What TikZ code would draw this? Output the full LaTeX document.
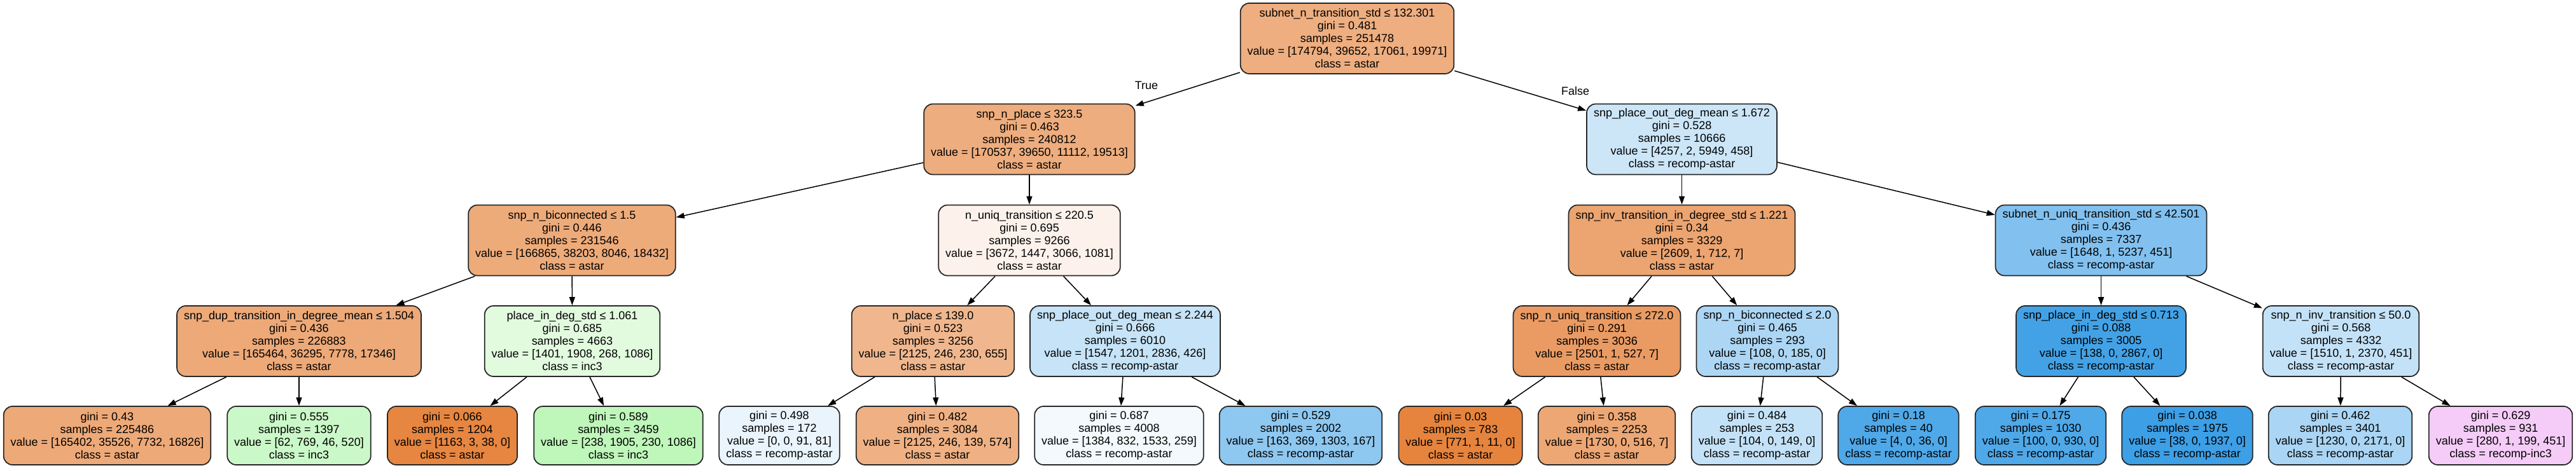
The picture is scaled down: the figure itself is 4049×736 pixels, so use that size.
\documentclass[tikz,border=0pt]{standalone}
\usepackage{fontspec}
\setmainfont{Liberation Sans}
\usetikzlibrary{arrows.meta}
\definecolor{astar}{RGB}{229,129,57}
\definecolor{inc3}{RGB}{71,229,57}
\definecolor{recomp}{RGB}{57,157,229}
\definecolor{recompinc}{RGB}{215,57,229}
\tikzset{
	split/.style={draw=black!85, line width=1pt, rounded corners=0.28cm, align=center, inner xsep=0.22cm, inner ysep=0pt, minimum height=2.22cm, font=\fontsize{10.24pt}{11.38pt}\selectfont},
	leaf/.style={split, minimum height=1.84cm},
	edge/.style={-{Triangle[length=0.26cm,width=0.18cm]}, line width=0.85pt},
	branch/.style={font=\fontsize{10.24pt}{11.38pt}\selectfont}
}
\begin{document}
\begin{tikzpicture}[x=0.02cm, y=-0.02cm]
			\useasboundingbox (0, 0) rectangle (4049, 736);
			% root and first split
			\node[split, fill=astar!64] (root) at (2117.5, 60.5) {subnet\_n\_transition\_std ≤ 132.301\\gini = 0.481\\samples = 251478\\value = [174794, 39652, 17061, 19971]\\class = astar};
			\node[split, fill=astar!65] (nplace) at (1618, 219) {snp\_n\_place ≤ 323.5\\gini = 0.463\\samples = 240812\\value = [170537, 39650, 11112, 19513]\\class = astar};
			\node[split, fill=recomp!26] (outdeg) at (2643.5, 219) {snp\_place\_out\_deg\_mean ≤ 1.672\\gini = 0.528\\samples = 10666\\value = [4257, 2, 5949, 458]\\class = recomp-astar};
			% second level
			\node[split, fill=astar!67] (bicon) at (899, 378) {snp\_n\_biconnected ≤ 1.5\\gini = 0.446\\samples = 231546\\value = [166865, 38203, 8046, 18432]\\class = astar};
			\node[split, fill=astar!10] (uniq) at (1618, 378) {n\_uniq\_transition ≤ 220.5\\gini = 0.695\\samples = 9266\\value = [3672, 1447, 3066, 1081]\\class = astar};
			\node[split, fill=astar!72] (invdeg) at (2643.5, 378) {snp\_inv\_transition\_in\_degree\_std ≤ 1.221\\gini = 0.34\\samples = 3329\\value = [2609, 1, 712, 7]\\class = astar};
			\node[split, fill=recomp!63] (subnet) at (3302.5, 378) {subnet\_n\_uniq\_transition\_std ≤ 42.501\\gini = 0.436\\samples = 7337\\value = [1648, 1, 5237, 451]\\class = recomp-astar};
			% third level
			\node[split, fill=astar!68] (dup) at (470, 536.5) {snp\_dup\_transition\_in\_degree\_mean ≤ 1.504\\gini = 0.436\\samples = 226883\\value = [165464, 36295, 7778, 17346]\\class = astar};
			\node[split, fill=inc3!16] (placein) at (899.5, 536.5) {place\_in\_deg\_std ≤ 1.061\\gini = 0.685\\samples = 4663\\value = [1401, 1908, 268, 1086]\\class = inc3};
			\node[split, fill=astar!57] (nplacetwo) at (1466.5, 536.5) {n\_place ≤ 139.0\\gini = 0.523\\samples = 3256\\value = [2125, 246, 230, 655]\\class = astar};
			\node[split, fill=recomp!29] (outdegtwo) at (1768.5, 536.5) {snp\_place\_out\_deg\_mean ≤ 2.244\\gini = 0.666\\samples = 6010\\value = [1547, 1201, 2836, 426]\\class = recomp-astar};
			\node[split, fill=astar!79] (nuniq) at (2510, 536.5) {snp\_n\_uniq\_transition ≤ 272.0\\gini = 0.291\\samples = 3036\\value = [2501, 1, 527, 7]\\class = astar};
			\node[split, fill=recomp!42] (bicontwo) at (2778, 536.5) {snp\_n\_biconnected ≤ 2.0\\gini = 0.465\\samples = 293\\value = [108, 0, 185, 0]\\class = recomp-astar};
			\node[split, fill=recomp!95] (placeindeg) at (3302.5, 536.5) {snp\_place\_in\_deg\_std ≤ 0.713\\gini = 0.088\\samples = 3005\\value = [138, 0, 2867, 0]\\class = recomp-astar};
			\node[split, fill=recomp!30] (ninv) at (3679.5, 536.5) {snp\_n\_inv\_transition ≤ 50.0\\gini = 0.568\\samples = 4332\\value = [1510, 1, 2370, 451]\\class = recomp-astar};
			% leaves
			\node[leaf, fill=astar!68] (leafa) at (168.5, 685) {gini = 0.43\\samples = 225486\\value = [165402, 35526, 7732, 16826]\\class = astar};
			\node[leaf, fill=inc3!28] (leafb) at (470, 685) {gini = 0.555\\samples = 1397\\value = [62, 769, 46, 520]\\class = inc3};
			\node[leaf, fill=astar!96] (leafc) at (711, 685) {gini = 0.066\\samples = 1204\\value = [1163, 3, 38, 0]\\class = astar};
			\node[leaf, fill=inc3!35] (leafd) at (972, 685) {gini = 0.589\\samples = 3459\\value = [238, 1905, 230, 1086]\\class = inc3};
			\node[leaf, fill=recomp!11] (leafe) at (1225, 685) {gini = 0.498\\samples = 172\\value = [0, 0, 91, 81]\\class = recomp-astar};
			\node[leaf, fill=astar!62] (leaff) at (1473.5, 685) {gini = 0.482\\samples = 3084\\value = [2125, 246, 139, 574]\\class = astar};
			\node[leaf, fill=recomp!6] (leafg) at (1759, 685) {gini = 0.687\\samples = 4008\\value = [1384, 832, 1533, 259]\\class = recomp-astar};
			\node[leaf, fill=recomp!57] (leafh) at (2044.5, 685) {gini = 0.529\\samples = 2002\\value = [163, 369, 1303, 167]\\class = recomp-astar};
			\node[leaf, fill=astar!98] (leafi) at (2295.5, 685) {gini = 0.03\\samples = 783\\value = [771, 1, 11, 0]\\class = astar};
			\node[leaf, fill=astar!70] (leafj) at (2525.5, 685) {gini = 0.358\\samples = 2253\\value = [1730, 0, 516, 7]\\class = astar};
			\node[leaf, fill=recomp!30] (leafk) at (2761.5, 685) {gini = 0.484\\samples = 253\\value = [104, 0, 149, 0]\\class = recomp-astar};
			\node[leaf, fill=recomp!89] (leafl) at (2984, 685) {gini = 0.18\\samples = 40\\value = [4, 0, 36, 0]\\class = recomp-astar};
			\node[leaf, fill=recomp!89] (leafm) at (3207.5, 685) {gini = 0.175\\samples = 1030\\value = [100, 0, 930, 0]\\class = recomp-astar};
			\node[leaf, fill=recomp!98] (leafn) at (3438, 685) {gini = 0.038\\samples = 1975\\value = [38, 0, 1937, 0]\\class = recomp-astar};
			\node[leaf, fill=recomp!43] (leafo) at (3678.5, 685) {gini = 0.462\\samples = 3401\\value = [1230, 0, 2171, 0]\\class = recomp-astar};
			\node[leaf, fill=recompinc!26] (leafp) at (3930.5, 685) {gini = 0.629\\samples = 931\\value = [280, 1, 199, 451]\\class = recomp-inc3};
			% edges
			\draw[edge] (root) -- (nplace);
			\draw[edge] (root) -- (outdeg);
			\node[branch] (true) at (1802, 134) {True};
			\node[branch] (false) at (2476, 143) {False};
			\draw[edge] (nplace) -- (bicon);
			\draw[edge] (nplace) -- (uniq);
			\draw[edge] (outdeg) -- (invdeg);
			\draw[edge] (outdeg) -- (subnet);
			\draw[edge] (bicon) -- (dup);
			\draw[edge] (bicon) -- (placein);
			\draw[edge] (uniq) -- (nplacetwo);
			\draw[edge] (uniq) -- (outdegtwo);
			\draw[edge] (invdeg) -- (nuniq);
			\draw[edge] (invdeg) -- (bicontwo);
			\draw[edge] (subnet) -- (placeindeg);
			\draw[edge] (subnet) -- (ninv);
			\draw[edge] (dup) -- (leafa);
			\draw[edge] (dup) -- (leafb);
			\draw[edge] (placein) -- (leafc);
			\draw[edge] (placein) -- (leafd);
			\draw[edge] (nplacetwo) -- (leafe);
			\draw[edge] (nplacetwo) -- (leaff);
			\draw[edge] (outdegtwo) -- (leafg);
			\draw[edge] (outdegtwo) -- (leafh);
			\draw[edge] (nuniq) -- (leafi);
			\draw[edge] (nuniq) -- (leafj);
			\draw[edge] (bicontwo) -- (leafk);
			\draw[edge] (bicontwo) -- (leafl);
			\draw[edge] (placeindeg) -- (leafm);
			\draw[edge] (placeindeg) -- (leafn);
			\draw[edge] (ninv) -- (leafo);
			\draw[edge] (ninv) -- (leafp);
		\end{tikzpicture}
\end{document}
